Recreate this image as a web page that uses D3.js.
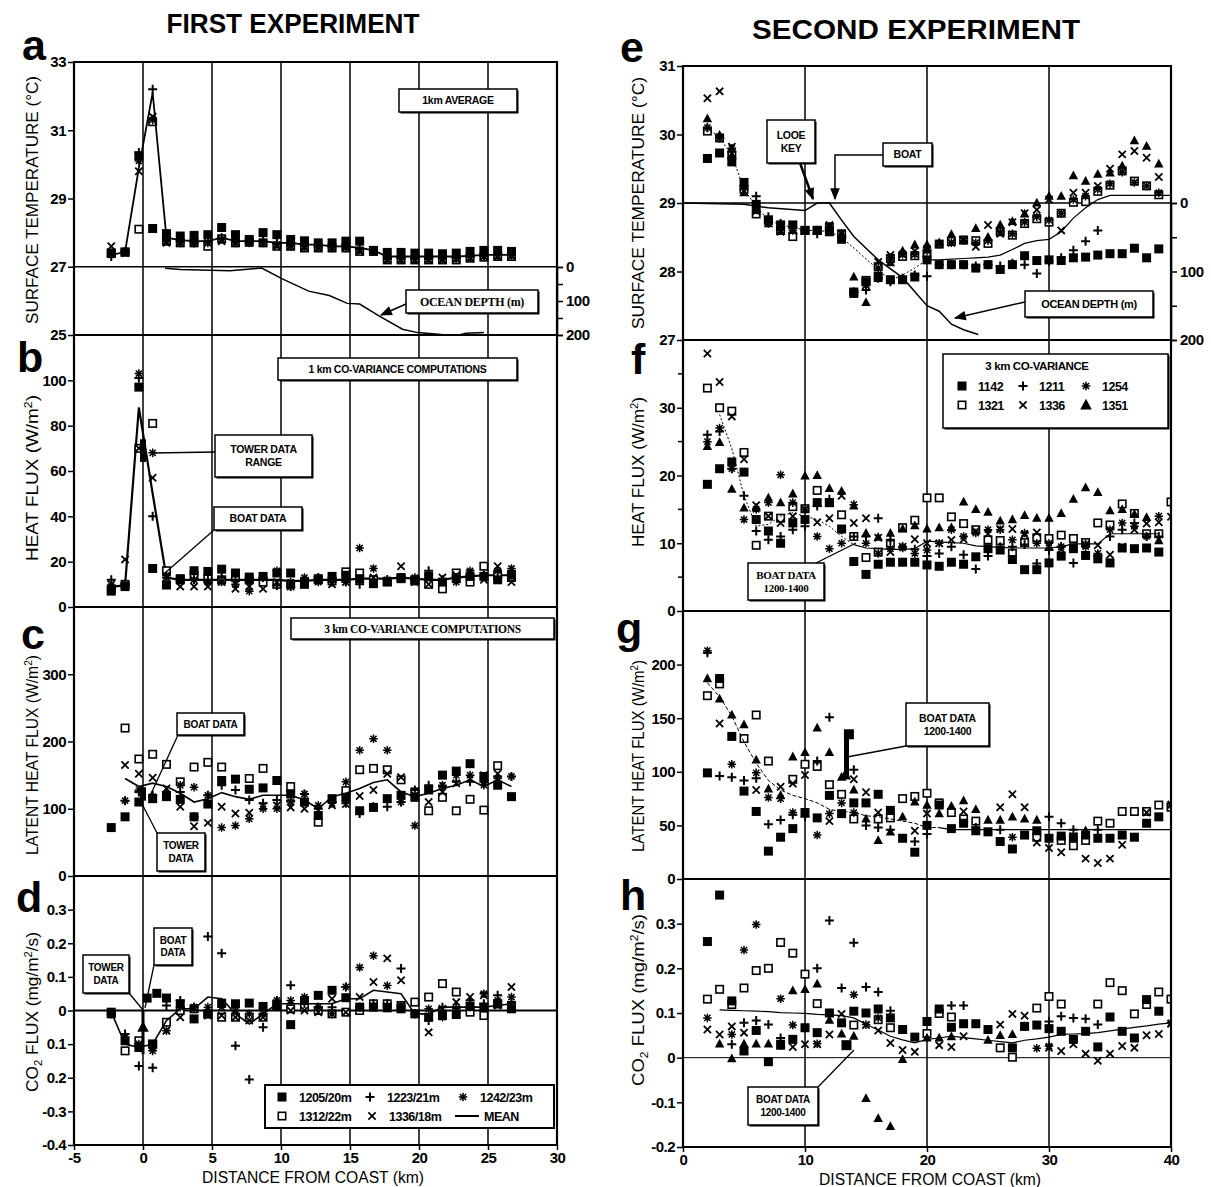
<!DOCTYPE html>
<meta charset="utf-8">
<style>
body { margin: 0; background: #fff; }
text { font-family: "Liberation Sans", Arial, sans-serif; fill: #000; }
.tick text { font-weight: bold; font-size: 15px; letter-spacing: -0.5px; }
.tick line { stroke: #000; stroke-width: 1.5px; }
.serif { font-family: "Liberation Serif", "Times New Roman", serif; }
</style>
<svg width="1211" height="1187"></svg>
<script src="https://d3js.org/d3.v7.min.js"></script>
<script>

// ---------- data: first experiment (1 km steps) ----------
var xFirst = [-2.3,-1.3,-0.3,0.7,1.7,2.7,3.7,4.7,5.7,6.7,7.7,8.7,9.7,10.7,11.7,12.7,13.7,14.7,15.7,16.7,17.7,18.7,19.7,20.7,21.7,22.7,23.7,24.7,25.7,26.7];
var firstNames = ["1205/20m","1223/21m","1242/23m","1312/22m","1336/18m"];

var a1205 = [27.4,27.43,30.25,28.12,27.97,27.9,27.92,27.94,28.15,27.94,27.8,28.0,27.94,27.8,27.76,27.7,27.7,27.75,27.75,27.48,27.42,27.42,27.4,27.4,27.38,27.4,27.45,27.48,27.48,27.45];
var a1223 = [27.3,27.45,30.35,32.2,27.8,27.75,27.7,27.75,27.85,27.75,27.75,27.75,27.7,27.65,27.6,27.6,27.6,27.6,27.55,27.45,27.25,27.25,27.25,27.25,27.25,27.25,27.3,27.32,27.35,27.35];
var a1242 = [27.35,27.45,30.1,31.3,27.75,27.7,27.7,27.7,27.8,27.7,27.7,27.7,27.65,27.6,27.6,27.55,27.55,27.55,27.5,27.45,27.22,27.22,27.22,27.22,27.22,27.25,27.28,27.3,27.32,27.32];
var a1312 = [27.4,27.43,28.1,31.25,27.75,27.7,27.7,27.6,27.82,27.7,27.72,27.7,27.6,27.6,27.55,27.55,27.55,27.55,27.45,27.45,27.2,27.2,27.2,27.2,27.2,27.2,27.25,27.28,27.3,27.3];
var a1336 = [27.6,27.4,29.8,31.4,27.7,27.7,27.7,27.7,27.75,27.7,27.7,27.7,27.6,27.6,27.55,27.55,27.55,27.6,27.45,27.45,27.2,27.2,27.2,27.2,27.2,27.22,27.25,27.3,27.3,27.32];
var aMean = [27.35,27.43,29.9,32.1,27.85,27.78,27.75,27.75,27.85,27.75,27.75,27.75,27.7,27.7,27.65,27.65,27.6,27.6,27.55,27.48,27.3,27.3,27.3,27.3,27.3,27.3,27.32,27.35,27.35,27.35];
var depthAx = [1.6,2.7,6.3,8.6,10.1,12,13.5,14.8,15.7,17.1,18.8,19.9,21.4,22.6,23.4,24.7];
var depthA = [4,7,11,3,35,71,84,107,109,144,183,193,198,203,195,193];

var b1205 = [7,9,97,17,9.7,12.5,16,15.7,16.7,15,13.2,13.5,15,15,10,12.5,13.5,14,12.5,10.3,11.3,12.5,11.5,13.5,11,12.5,13.5,13.5,12,14.4];
var b1223 = [12,10,101,40,13,12,12,12,13,12,11,13,9.5,9,12,13,11,11,10,12,12,13,12,16,12,13,14,14,13,14];
var b1242 = [9,10,103,68,14,12,12,11,11,10,7,13,16,11,13,11,12,13,26,17,12,13,13,14,11,11,16,14,16,17];
var b1312 = [8,10,70,81,16,12,14,12.5,12,13,12,11,10,10,11,12,11.5,15.5,15,12,11,13,12,10,8,15,11,18,14,13];
var b1336 = [10,21,70,57,13,9,9,9,11,8,9,8,11,9,10,12,10,11,12,13,11,18,11,10,13,14,15,12,18,11];
var bMean = [9,9.5,88,50,13,12,12,12,12,12,12,12,12,11.5,11.5,12,12,12,12.5,12.5,12.5,13,12.5,12,12,13,13.5,14,14,14];

var c1205 = [72,88,110,115,118,114,88,107,142,144,129,131,142,122,110,90,115,117,97,102,115,120,117,128,150,156,167,148,135,118];
var c1223 = [null,112,125,120,125,125,88,120,135,128,113,108,113,112,122,100,110,108,93,103,103,110,128,135,133,140,140,140,148,148];
var c1242 = [null,112,128,118,120,135,132,120,72,75,85,100,100,110,122,105,108,140,187,204,187,110,75,130,135,150,150,135,145,148];
var c1312 = [null,220,174,181,166,140,162,169,162,null,145,160,null,133,null,80,null,127,158,160,158,143,125,97,117,97,114,98,164,null];
var c1336 = [null,165,152,146,130,103,74,79,103,93,94,104,105,102,100,97,105,107,119,128,152,147,120,110,125,138,145,150,152,null];
var cMean = [null,145,133,138,133,123,110,115,124,118,114,120,120,120,113,100,118,123,130,139,143,125,118,123,130,135,143,133,143,133];

var d1205 = [-0.005,-0.09,-0.11,-0.1,0.037,0.02,-0.025,-0.01,0.022,0.02,0.022,0.012,0.015,-0.042,0.03,0.045,0.06,0.038,0.01,0.01,0.008,0.005,-0.01,-0.02,-0.015,-0.012,0.012,0.01,0.02,0.005];
var d1223 = [-0.01,-0.07,-0.165,-0.17,0.015,0.03,0.01,0.22,0.17,-0.105,-0.205,-0.05,0.03,0.075,0.02,0.01,0.01,0.07,0.01,0.02,0.02,0.125,-0.01,-0.03,0.01,0.01,0.03,0.02,0.045,0.025];
var d1242 = [-0.01,-0.08,-0.1,-0.12,-0.06,0.01,0.01,0.01,0.01,0.0,-0.01,-0.01,0.03,0.03,0.04,0.01,-0.01,0.07,0.128,0.163,0.074,0.015,-0.01,0.005,-0.02,0.005,0.01,0.05,0.03,0.04];
var d1312 = [-0.01,-0.12,-0.09,-0.1,-0.035,0.0,0.005,-0.01,-0.02,-0.02,-0.02,-0.02,0.015,0.005,0.01,0.0,-0.01,-0.005,0.0,0.02,0.02,0.015,0.025,0.04,0.08,0.055,-0.005,-0.015,0.02,0.01];
var d1336 = [-0.01,-0.09,-0.1,-0.11,-0.06,-0.02,0.005,-0.015,-0.015,-0.02,-0.03,-0.02,0.02,0.0,0.0,-0.005,0.035,-0.005,0.04,0.085,0.155,0.09,-0.01,-0.065,0.005,0.025,0.04,0.045,0.015,0.07];
var dMean = [-0.005,-0.1,-0.11,-0.1,-0.03,0.005,0.005,0.04,0.035,-0.01,-0.04,-0.01,0.02,0.02,0.02,0.02,0.02,0.035,0.035,0.06,0.055,0.05,-0.01,-0.01,0.01,0.01,0.01,0.01,0.015,0.02];
var dBoatX = [0.3,1.0];
var dBoatY = [0.037,0.051];

// ---------- data: second experiment (1 km steps, 2..40 km) ----------
var xSecond = [2,3,4,5,6,7,8,9,10,11,12,13,14,15,16,17,18,19,20,21,22,23,24,25,26,27,28,29,30,31,32,33,34,35,36,37,38,39,40];
var secondNames = ["1142","1211","1254","1321","1336","1351"];

var e1142 = [29.65,29.73,29.6,29.3,28.98,28.75,28.68,28.68,28.6,28.6,28.58,28.47,27.68,27.85,27.93,27.88,27.88,27.92,28.17,28.1,28.1,28.1,28.05,28.1,28.03,28.1,28.23,28.16,28.17,28.16,28.2,28.21,28.24,28.26,28.26,28.34,28.2,28.33,null];
var e1211 = [30.1,29.95,29.75,29.2,29.1,28.8,28.7,28.65,28.6,28.55,28.6,28.5,27.7,27.73,27.9,27.85,27.9,27.95,27.93,28.1,28.1,28.1,28.08,28.1,28.08,28.12,28.1,27.97,28.15,28.2,28.31,28.44,28.6,null,null,null,null,null,null];
var e1254 = [30.1,29.95,29.8,29.25,28.9,28.7,28.6,28.6,28.6,28.6,28.65,28.5,27.7,27.8,28.05,28.2,28.25,28.25,28.3,28.4,28.42,28.45,28.42,28.45,28.58,28.55,28.72,28.8,28.75,28.85,29.05,29.1,29.2,29.28,29.45,29.3,29.25,29.15,null];
var e1321 = [30.05,29.95,29.7,29.2,28.84,28.75,28.6,28.51,28.6,28.6,28.65,28.55,27.7,27.87,28.07,28.19,28.22,28.23,28.26,28.4,28.44,28.46,28.45,28.41,28.58,28.53,28.7,28.77,28.72,28.85,29.01,29.02,29.17,29.26,29.47,29.32,29.25,29.12,null];
var e1336 = [30.53,30.63,29.82,29.25,28.88,28.75,28.58,28.6,28.6,28.6,28.68,28.55,27.7,27.8,28.14,28.24,28.25,28.3,28.33,28.4,28.42,28.46,28.36,28.68,28.55,28.72,28.85,28.9,29.05,28.6,29.15,29.15,29.25,29.5,29.71,29.76,29.66,29.38,null];
var e1351 = [30.23,29.99,29.7,29.15,28.9,28.7,28.65,28.6,28.6,28.6,28.65,28.55,27.92,27.55,27.9,28.13,28.3,28.39,28.39,28.42,28.54,28.45,28.63,28.5,28.68,28.73,28.84,29.0,29.1,29.1,29.4,29.32,29.42,29.44,29.54,29.91,29.83,29.57,null];
var eMean = [30.1,29.95,29.7,29.2,28.95,28.75,28.68,28.65,28.6,28.6,28.58,28.5,null,null,null,27.87,27.95,28.05,28.17,28.17,28.18,28.19,28.2,28.21,28.24,28.32,28.41,28.45,28.47,28.58,28.78,28.93,29.05,29.11,29.11,29.11,29.11,29.11,29.11];
var depthEx = [0,5,7,10,11,12,13,14,16,18,20,21,22,23,24.2];
var depthE = [0,2,7,11,0,0,25,49,83,109,150,158,177,185,192];

var f1142 = [18.7,21,22,20.5,13.5,11.8,10,13,13.5,16,16,12.1,7.3,5.4,6.9,7.2,7.2,7.2,6.8,6.6,7.2,6.9,8,9.2,9,7.6,6.1,6.1,7.1,8.1,9.2,8.2,7.7,7.1,9.3,9.2,9.3,8.7,null];
var f1211 = [26,26.5,21,17,11.8,10.5,11,12,12.5,15.5,16.5,12,11,11,13.7,10.4,9.5,9.1,8.1,8.5,9.5,8.3,6.2,8.1,9.5,9.5,9.8,7,9,9.5,7.1,9.8,8.2,11,12,13,11,11,null];
var f1254 = [25,27,21,13.5,15,16,20.1,16,15,11,9.2,10,15.7,10,8.5,9.2,9.3,8.5,9,10,12,11,11.5,12,12,10.5,11.5,10,10,9.5,9.5,9.5,8.5,12,13,12.5,11,14,null];
var f1321 = [32.9,30,29.5,23.4,9.7,14,13.7,15.4,15.1,17.8,16,14.2,11,7.9,8.7,10,12.3,13.4,16.7,16.7,13.9,12.9,12,10.5,10.4,8.5,10.1,10.8,10.7,11.2,10.7,10.1,13,12.7,15.8,14.4,11.4,11.4,16.1];
var f1336 = [38,33.8,28.7,22.4,15.6,14,13,14,15,13.1,13.7,17,13,13.7,10.8,8.7,9.5,10.6,10,10,10.5,10.6,11.8,11.4,12.1,12.1,11.3,11.6,9.6,9.1,9.5,9.8,9.7,8.3,9.5,12,12.9,13.1,13.9];
var f1351 = [24.3,24.9,18,15.2,15.2,16.7,16,17.3,19.95,20,18.1,17.7,15.5,11.5,10.9,11.5,12.1,12.6,12.1,12.3,12.3,16.1,15,14.6,13.3,13.5,14.1,13.7,13.7,14.4,16.5,18.2,17.5,14.8,15,14.3,13.8,10.4,null];
var fMean = [null,29,24,17,12.5,12.8,14,14.5,14,13.5,12.5,11,9.8,9.3,9.2,9.1,9.1,9.2,10.3,10.2,10.1,10,9.6,9.5,9.4,9.3,9.3,9.3,9.3,9.5,9.9,9.9,9.9,11.4,11.4,11.4,11.4,11.4,null];

var g1142 = [99,187,133,82,63,26,39,47,62,57,78,61,71,71,79,64,38,25,50,69,47,52,45,44,35,28,41,45,38,40,39,41,38,38,41,39,52,58,null];
var g1211 = [211,96,95,92,94,51,55,60,58,110,151,null,102,50,48,46,null,35,42,null,null,null,48,null,46,null,null,null,58,52,46,null,46,null,null,null,null,null,null];
var g1254 = [213,null,107,null,99,76,75,62,null,41,61,71,62,null,null,null,null,null,null,null,null,null,null,null,null,39,null,null,null,null,null,null,null,null,null,null,null,null,70];
var g1321 = [171,182,null,131,153,110,null,93,107,105,88,79,56,null,56,57,75,77,80,71,62,56,54,null,null,null,null,39,null,36,31,36,54,52,63,63,63,69,67];
var g1336 = [null,145,null,null,83,null,86,89,97,null,54,null,93,81,62,null,null,45,61,null,null,63,null,null,67,79,67,34,29,25,40,19,15,19,32,39,62,null,69];
var g1351 = [187,168,153,144,111,84,78,114,118,141,118,95,83,56,36,44,58,72,69,61,68,73,65,55,55,58,56,55,null,null,null,45,null,null,null,null,null,null,null];
var gMean = [183,170,152,128,108,92,83,78,75,71,65,63,62,59,58,56,54,52,48,48,46,46,46,46,46,46,46,46,46,46,46,46,46,46,46,46,46,46,46];

var h1142 = [0.26,0.364,0.127,0.015,0.061,-0.009,0.03,0.041,0.067,0.056,0.1,0.078,0.104,0.1,0.109,0.089,0.063,0.046,0.081,0.109,0.068,0.076,0.076,0.063,null,0.022,0.07,0.073,0.065,0.059,0.041,0.059,0.024,0.091,0.059,0.044,0.13,0.104,null];
var h1211 = [null,null,0.03,0.078,0.083,0.074,0.044,null,null,0.2,0.307,0.156,0.257,0.158,0.147,0.105,null,null,null,null,0.117,0.117,null,null,null,null,null,null,0.081,0.093,0.089,0.087,0.074,null,null,null,null,null,null];
var h1254 = [0.089,null,0.052,0.241,0.298,null,0.132,0.073,null,0.031,null,null,0.141,0.074,0.089,null,null,null,null,null,null,null,null,null,null,null,null,0.021,0.026,null,null,null,null,null,null,null,null,null,0.078];
var h1321 = [0.131,0.153,0.119,0.156,0.195,0.2,0.258,0.234,0.187,0.121,null,null,0.073,null,0.085,0.067,null,null,0.054,0.099,0.091,null,null,null,0.022,0.001,null,0.111,0.137,0.12,null,null,0.12,0.168,0.15,0.098,0.119,0.147,0.131];
var h1336 = [0.063,0.052,0.07,0.056,null,null,null,0.024,0.03,0.03,0.052,0.098,null,0.073,0.061,0.033,0.017,0.013,null,0.028,0.024,0.048,null,null,0.074,0.098,0.094,null,0.022,0.015,0.03,0.009,-0.007,0.009,0.026,0.022,0.05,0.053,0.076];
var h1351 = [null,0.031,-0.002,0.031,0.031,0.031,0.026,0.15,0.153,0.165,0.084,0.053,0.048,-0.091,-0.136,-0.154,-0.004,null,0.044,0.044,0.047,null,null,0.039,0.05,0.052,0.07,null,null,null,null,null,null,null,null,null,null,null,null];
var hMean = [null,0.107,0.106,0.105,0.104,0.103,0.101,0.1,0.099,0.097,0.096,0.094,0.089,0.075,0.062,0.048,0.04,0.033,0.041,0.044,0.048,0.045,0.042,0.039,0.036,0.033,0.039,0.042,0.046,0.052,0.053,0.054,0.056,0.06,0.064,0.068,0.071,0.075,0.078];

// ---------- tick labels ----------
var xTicksFirst = [-5,0,5,10,15,20,25,30];
var xTicksSecond = [0,10,20,30,40];
var dTickVals = [-0.4,-0.3,-0.2,-0.1,0,0.1,0.2,0.3];
var dTickLabels = ["-0.4","-0.3","0.2","0.1","0","0.1","0.2","0.3"];
var hTickVals = [-0.2,-0.1,0,0.1,0.2,0.3];
var hTickLabels = ["-0.2","-0.1","0","0.1","0.2","0.3"];

// ---------- layout ----------
var svg = d3.select("svg");
var xL = d3.scaleLinear().domain([-5, 30]).range([74, 557]);
var xR = d3.scaleLinear().domain([0, 40]).range([683, 1171]);

var yA = d3.scaleLinear().domain([25, 33]).range([335, 62]);
var yAdepth = d3.scaleLinear().domain([0, 200]).range([267, 335]);
var yB = d3.scaleLinear().domain([0, 120]).range([607, 335]);
var yC = d3.scaleLinear().domain([0, 400]).range([876, 607]);
var yD = d3.scaleLinear().domain([-0.4, 0.4]).range([1145, 876]);
var yE = d3.scaleLinear().domain([27, 31]).range([340, 66]);
var yEdepth = d3.scaleLinear().domain([0, 200]).range([203, 340]);
var yF = d3.scaleLinear().domain([0, 40]).range([611, 340]);
var yG = d3.scaleLinear().domain([0, 250]).range([879, 611]);
var yH = d3.scaleLinear().domain([-0.2, 0.4]).range([1147, 879]);

var defs = svg.append("defs");
defs.append("marker").attr("id", "arrBig").attr("viewBox", "0 0 10 10")
  .attr("refX", 9).attr("refY", 5).attr("markerWidth", 14).attr("markerHeight", 12)
  .attr("orient", "auto").attr("markerUnits", "userSpaceOnUse")
  .append("path").attr("d", "M0,1L10,5L0,9Z").attr("fill", "#000");

function clip(id, x0, y0, x1, y1) {
  defs.append("clipPath").attr("id", id).append("rect")
    .attr("x", x0).attr("y", y0).attr("width", x1 - x0).attr("height", y1 - y0);
  return svg.append("g").attr("clip-path", "url(#" + id + ")");
}

function sym(g, type, cx, cy, s) {
  var h = s / 2;
  if (type === "sqf") {
    g.append("rect").attr("x", cx - h).attr("y", cy - h).attr("width", s).attr("height", s).attr("fill", "#000");
  } else if (type === "sqo") {
    g.append("rect").attr("x", cx - h + 0.8).attr("y", cy - h + 0.8).attr("width", s - 1.6).attr("height", s - 1.6)
      .attr("fill", "#fff").attr("stroke", "#000").attr("stroke-width", 1.6);
  } else if (type === "plus") {
    g.append("path").attr("d", "M" + (cx - h) + "," + cy + "H" + (cx + h) + "M" + cx + "," + (cy - h) + "V" + (cy + h))
      .attr("stroke", "#000").attr("stroke-width", 2);
  } else if (type === "cross") {
    var k = h * 0.8;
    g.append("path").attr("d", "M" + (cx - k) + "," + (cy - k) + "L" + (cx + k) + "," + (cy + k) + "M" + (cx - k) + "," + (cy + k) + "L" + (cx + k) + "," + (cy - k))
      .attr("stroke", "#000").attr("stroke-width", 1.8);
  } else if (type === "star") {
    var r = h * 0.95, q = r * 0.72;
    g.append("path").attr("d", "M" + (cx - r) + "," + cy + "H" + (cx + r) + "M" + cx + "," + (cy - r) + "V" + (cy + r) +
        "M" + (cx - q) + "," + (cy - q) + "L" + (cx + q) + "," + (cy + q) + "M" + (cx - q) + "," + (cy + q) + "L" + (cx + q) + "," + (cy - q))
      .attr("stroke", "#000").attr("stroke-width", 1.5);
  } else if (type === "tri") {
    g.append("path").attr("d", "M" + cx + "," + (cy - h * 1.15) + "L" + (cx + h * 1.05) + "," + (cy + h * 0.8) + "L" + (cx - h * 1.05) + "," + (cy + h * 0.8) + "Z")
      .attr("fill", "#000");
  }
}

function points(g, xs, ys, x, y, type, s) {
  xs.forEach(function (xv, i) {
    if (ys[i] == null) return;
    sym(g, type, x(xv), y(ys[i]), s);
  });
}

function curve(g, xs, ys, x, y, width, dash, lo, hi) {
  var pts = xs.map(function (xv, i) { return [xv, ys[i]]; })
    .filter(function (p) { return p[1] != null && (lo == null || p[0] >= lo) && (hi == null || p[0] <= hi); });
  var line = d3.line().x(function (p) { return x(p[0]); }).y(function (p) { return y(p[1]); });
  var path = g.append("path").attr("d", line(pts)).attr("fill", "none").attr("stroke", "#000").attr("stroke-width", width);
  if (dash) path.attr("stroke-dasharray", dash);
}

function yAxis(x0, y, vals, labels, minor) {
  var g = svg.append("g").attr("transform", "translate(" + x0 + ",0)")
    .call(d3.axisLeft(y).tickValues(vals).tickSize(6).tickPadding(2)
      .tickFormat(function (d, i) { return labels ? labels[i] : String(d); }));
  g.select(".domain").remove();
  if (minor) {
    minor.forEach(function (v) {
      svg.append("line").attr("x1", x0 - 5).attr("x2", x0).attr("y1", y(v)).attr("y2", y(v))
        .attr("stroke", "#000").attr("stroke-width", 1.5);
    });
  }
}

function depthAxis(x0, y) {
  var g = svg.append("g").attr("transform", "translate(" + x0 + ",0)")
    .call(d3.axisRight(y).tickValues([0, 50, 100, 150, 200]).tickSize(6).tickPadding(3)
      .tickFormat(function (d) { return d % 100 === 0 ? String(d) : ""; }));
  g.select(".domain").attr("stroke-width", 1.5);
}

function xAxis(y0, x, vals) {
  var g = svg.append("g").attr("transform", "translate(0," + y0 + ")")
    .call(d3.axisBottom(x).tickValues(vals).tickSize(5).tickPadding(2)
      .tickFormat(function (d) { return String(d); }));
  g.select(".domain").remove();
}

function rich(sel, parts, size) {
  var off = 0;
  parts.forEach(function (p) {
    var target = p[1] === "sup" ? -size * 0.4 : p[1] === "sub" ? size * 0.25 : 0;
    var ts = sel.append("tspan").attr("dy", target - off).text(p[0]);
    if (p[1]) ts.attr("font-size", size * 0.65);
    off = target;
  });
}

function yTitle(x, y, parts, len) {
  var t = svg.append("text").attr("transform", "translate(" + x + "," + y + ") rotate(-90)")
    .attr("text-anchor", "middle").attr("font-size", 16);
  rich(t, parts, 16);
  if (len) t.attr("textLength", len).attr("lengthAdjust", "spacingAndGlyphs");
}

function note(x, y, w, h, lines, size, serif) {
  var g = svg.append("g");
  g.append("rect").attr("x", x + 1.5).attr("y", y + 1.5).attr("width", w).attr("height", h).attr("fill", "#000");
  g.append("rect").attr("x", x).attr("y", y).attr("width", w).attr("height", h)
    .attr("fill", "#fff").attr("stroke", "#000").attr("stroke-width", 1.5);
  var lh = size * 1.25;
  lines.forEach(function (t, i) {
    g.append("text").attr("x", x + w / 2).attr("y", y + h / 2 + (i - (lines.length - 1) / 2) * lh + size * 0.36)
      .attr("text-anchor", "middle").attr("font-size", size).attr("font-weight", "bold")
      .attr("class", serif ? "serif" : null).style("letter-spacing", "-0.3px").text(t);
  });
}

function seg(pts, width, marker) {
  var p = svg.append("path").attr("d", d3.line()(pts)).attr("fill", "none")
    .attr("stroke", "#000").attr("stroke-width", width || 1.3);
  if (marker) p.attr("marker-end", "url(#" + marker + ")");
}

function vline(x, y0, y1, w) {
  svg.append("line").attr("x1", x).attr("x2", x).attr("y1", y0).attr("y2", y1).attr("stroke", "#000").attr("stroke-width", w);
}
function hline(x0, x1, y, w) {
  svg.append("line").attr("x1", x0).attr("x2", x1).attr("y1", y).attr("y2", y).attr("stroke", "#000").attr("stroke-width", w);
}

var firstTypes = ["sqf", "plus", "star", "sqo", "cross"];
var secondTypes = ["sqf", "plus", "star", "sqo", "cross", "tri"];
var drawOrder1 = [3, 0, 1, 2, 4];
var drawOrder2 = [3, 0, 1, 2, 4, 5];

// ---------- grid lines ----------
[0, 5, 10, 15, 20, 25].forEach(function (v) { vline(xL(v), 62, 1145, 1.5); });
[10, 20, 30].forEach(function (v) { vline(xR(v), 66, 1147, 1.5); });
hline(74, 557, yA(27), 1.5);
hline(74, 557, yD(0), 2);
hline(683, 1171, yE(29), 1.5);
hline(683, 1171, yH(0), 1);

// ---------- first experiment panels ----------
var gA = clip("cA", 74, 62, 557, 335);
curve(gA, depthAx, depthA, xL, yAdepth, 1.5);
var aSeries = [a1205, a1223, a1242, a1312, a1336];
drawOrder1.forEach(function (k) { points(gA, xFirst, aSeries[k], xL, yA, firstTypes[k], 9); });
curve(gA, xFirst, aMean, xL, yA, 1.8);

var gB = clip("cB", 74, 335, 557, 607);
var bSeries = [b1205, b1223, b1242, b1312, b1336];
curve(gB, xFirst, bMean, xL, yB, 2.2);
drawOrder1.forEach(function (k) { points(gB, xFirst, bSeries[k], xL, yB, firstTypes[k], 9); });
vline(xL(0), yB(74), yB(64), 6);

var gC = clip("cC", 74, 607, 557, 876);
var cSeries = [c1205, c1223, c1242, c1312, c1336];
drawOrder1.forEach(function (k) { points(gC, xFirst, cSeries[k], xL, yC, firstTypes[k], 9); });
curve(gC, xFirst, cMean, xL, yC, 1.6);
vline(xL(0), yC(132), yC(112), 6);

var gD = clip("cD", 74, 876, 557, 1145);
var dSeries = [d1205, d1223, d1242, d1312, d1336];
drawOrder1.forEach(function (k) { points(gD, xFirst, dSeries[k], xL, yD, firstTypes[k], 9); });
points(gD, dBoatX, dBoatY, xL, yD, "sqf", 9);
curve(gD, xFirst, dMean, xL, yD, 1.6);
vline(xL(0), yD(0), yD(-0.13), 3);
sym(gD, "tri", xL(0), yD(-0.05), 11);

// ---------- second experiment panels ----------
var gE = clip("cE", 683, 66, 1171, 340);
curve(gE, depthEx, depthE, xR, yEdepth, 1.5);
var eSeries = [e1142, e1211, e1254, e1321, e1336, e1351];
drawOrder2.forEach(function (k) { points(gE, xSecond, eSeries[k], xR, yE, secondTypes[k], 9); });
curve(gE, xSecond, eMean, xR, yE, 1, "2,2", null, 20);
curve(gE, xSecond, eMean, xR, yE, 1.2, null, 20, null);

var gF = clip("cF", 683, 340, 1171, 611);
var fSeries = [f1142, f1211, f1254, f1321, f1336, f1351];
drawOrder2.forEach(function (k) { points(gF, xSecond, fSeries[k], xR, yF, secondTypes[k], 9); });
curve(gF, xSecond, fMean, xR, yF, 1, "2,2", null, 14);
curve(gF, xSecond, fMean, xR, yF, 1.2, null, 14, null);

var gG = clip("cG", 683, 611, 1171, 879);
var gSeries = [g1142, g1211, g1254, g1321, g1336, g1351];
drawOrder2.forEach(function (k) { points(gG, xSecond, gSeries[k], xR, yG, secondTypes[k], 9); });
curve(gG, xSecond, gMean, xR, yG, 1, "4,2", null, 21);
curve(gG, xSecond, gMean, xR, yG, 1.2, null, 21, null);
vline(xR(13.4), yG(135), yG(95), 5);
sym(gG, "sqf", xR(13.6), yG(135), 10);
sym(gG, "tri", xR(13.3), yG(97), 11);

var gH = clip("cH", 683, 879, 1171, 1147);
var hSeries = [h1142, h1211, h1254, h1321, h1336, h1351];
drawOrder2.forEach(function (k) { points(gH, xSecond, hSeries[k], xR, yH, secondTypes[k], 9); });
points(gH, [13.4], [0.028], xR, yH, "sqf", 10);
curve(gH, xSecond, hMean, xR, yH, 1.2);

// ---------- frames ----------
[62, 335, 607, 876, 1145].forEach(function (y) { hline(73, 558, y, 2.2); });
vline(74, 61, 1146, 2.2); vline(557, 61, 1146, 2.2);
[66, 340, 611, 879, 1147].forEach(function (y) { hline(682, 1172, y, 2.2); });
vline(683, 65, 1148, 2.2); vline(1171, 65, 1148, 2.2);

// ---------- axes ----------
yAxis(74, yA, [25, 27, 29, 31, 33]);
depthAxis(557, yAdepth);
yAxis(74, yB, [0, 20, 40, 60, 80, 100]);
yAxis(74, yC, [0, 100, 200, 300]);
yAxis(74, yD, dTickVals, dTickLabels);
xAxis(1145, xL, xTicksFirst);

yAxis(683, yE, [27, 28, 29, 30, 31]);
depthAxis(1171, yEdepth);
yAxis(683, yF, [0, 10, 20, 30], null, [5, 15, 25, 35]);
yAxis(683, yG, [0, 50, 100, 150, 200]);
yAxis(683, yH, hTickVals, hTickLabels);
xAxis(1147, xR, xTicksSecond);

svg.append("text").attr("x", 313).attr("y", 1183).attr("text-anchor", "middle").attr("font-size", 16)
  .attr("textLength", 222).attr("lengthAdjust", "spacingAndGlyphs").text("DISTANCE FROM COAST (km)");
svg.append("text").attr("x", 930).attr("y", 1185).attr("text-anchor", "middle").attr("font-size", 16)
  .attr("textLength", 222).attr("lengthAdjust", "spacingAndGlyphs").text("DISTANCE FROM COAST (km)");

yTitle(38, 200, [["SURFACE TEMPERATURE (°C)"]], 248);
yTitle(38, 478, [["HEAT FLUX (W/m"], ["2", "sup"], [")"]], 166);
yTitle(38, 755, [["LATENT HEAT FLUX (W/m"], ["2", "sup"], [")"]], 200);
yTitle(38, 1012, [["CO"], ["2", "sub"], [" FLUX  (mg/m"], ["2", "sup"], ["/s)"]], 160);
yTitle(644, 203, [["SURFACE TEMPERATURE (°C)"]], 252);
yTitle(644, 472, [["HEAT FLUX (W/m"], ["2", "sup"], [")"]], 150);
yTitle(644, 756, [["LATENT HEAT FLUX (W/m"], ["2", "sup"], [")"]], 192);
yTitle(644, 1000, [["CO"], ["2", "sub"], [" FLUX  (mg/m"], ["2", "sup"], ["/s)"]], 172);

// ---------- titles and panel letters ----------
svg.append("text").attr("x", 293).attr("y", 33).attr("text-anchor", "middle").attr("font-size", 27)
  .attr("font-weight", "bold").attr("textLength", 253).attr("lengthAdjust", "spacingAndGlyphs").text("FIRST EXPERIMENT");
svg.append("text").attr("x", 916).attr("y", 39).attr("text-anchor", "middle").attr("font-size", 27)
  .attr("font-weight", "bold").attr("textLength", 328).attr("lengthAdjust", "spacingAndGlyphs").text("SECOND EXPERIMENT");

var letters = [["a", 22, 60], ["b", 17, 372], ["c", 21, 649], ["d", 16, 912], ["e", 620, 62], ["f", 631, 374], ["g", 616, 643], ["h", 620, 910]];
letters.forEach(function (l) {
  svg.append("text").attr("x", l[1]).attr("y", l[2]).attr("font-size", 43).attr("font-weight", "bold").text(l[0]);
});

// ---------- annotations ----------
note(399, 89, 118, 23, ["1km  AVERAGE"], 10.5);
note(406, 290, 132, 23, ["OCEAN DEPTH (m)"], 12, true);
seg([[406, 304], [381, 315]], 1.5, "arrBig");

note(278, 358, 239, 22, ["1 km  CO-VARIANCE COMPUTATIONS"], 10.5);
note(215, 435, 97, 42, ["TOWER  DATA", "RANGE"], 10.5);
seg([[215, 452], [152, 453]], 1.3);
note(214, 507, 88, 23, ["BOAT  DATA"], 10.5);
seg([[214, 530], [165, 573]], 1.3);

note(291, 618, 263, 21, ["3 km  CO-VARIANCE COMPUTATIONS"], 11.5, true);
note(177, 713, 67, 22, ["BOAT DATA"], 10);
seg([[178, 735], [150, 796]], 1.3);
note(157, 833, 48, 38, ["TOWER", "DATA"], 10);
seg([[157, 833], [140, 800]], 1.3);

note(83, 955, 46, 38, ["TOWER", "DATA"], 10);
seg([[129, 993], [143, 1010]], 1.3);
note(154, 928, 38, 37, ["BOAT", "DATA"], 10);
seg([[154, 965], [145, 1008]], 1.3);

// legend, first experiment
var leg1 = svg.append("g");
leg1.append("rect").attr("x", 265).attr("y", 1085).attr("width", 289).attr("height", 43)
  .attr("fill", "#fff").attr("stroke", "#000").attr("stroke-width", 2);
var leg1Pos = [[282, 1097], [370, 1097], [463, 1097], [282, 1116], [372, 1116]];
firstNames.forEach(function (n, i) {
  sym(leg1, firstTypes[i], leg1Pos[i][0], leg1Pos[i][1], 9);
  leg1.append("text").attr("x", leg1Pos[i][0] + 17).attr("y", leg1Pos[i][1] + 5).attr("font-size", 12.5)
    .attr("font-weight", "bold").style("letter-spacing", "-0.5px").text(n);
});
leg1.append("line").attr("x1", 455).attr("x2", 479).attr("y1", 1116).attr("y2", 1116).attr("stroke", "#000").attr("stroke-width", 2);
leg1.append("text").attr("x", 484).attr("y", 1121).attr("font-size", 12.5).attr("font-weight", "bold")
  .style("letter-spacing", "-0.5px").text("MEAN");

// second experiment notes
note(767, 120, 48, 43, ["LOOE", "KEY"], 10.5);
seg([[800, 163], [813, 199]], 2.5, "arrBig");
note(883, 143, 49, 23, ["BOAT"], 10.5);
seg([[883, 155], [835, 155], [835, 199]], 1.5, "arrBig");
note(1025, 291, 128, 26, ["OCEAN DEPTH (m)"], 11);
seg([[1025, 302], [955, 318]], 1.5, "arrBig");

var leg2 = svg.append("g");
leg2.append("rect").attr("x", 1.5 + 943).attr("y", 1.5 + 354).attr("width", 225).attr("height", 74).attr("fill", "#000");
leg2.append("rect").attr("x", 943).attr("y", 354).attr("width", 225).attr("height", 74)
  .attr("fill", "#fff").attr("stroke", "#000").attr("stroke-width", 1.5);
leg2.append("text").attr("x", 1037).attr("y", 370).attr("text-anchor", "middle").attr("font-size", 11.5)
  .attr("font-weight", "bold").style("letter-spacing", "-0.4px").text("3 km  CO-VARIANCE");
var leg2Pos = [[962, 386], [1023, 386], [1086, 386], [962, 405], [1023, 405], [1086, 405]];
secondNames.forEach(function (n, i) {
  sym(leg2, secondTypes[i], leg2Pos[i][0], leg2Pos[i][1], i === 5 ? 11 : 9);
  leg2.append("text").attr("x", leg2Pos[i][0] + 16).attr("y", leg2Pos[i][1] + 5).attr("font-size", 12.5)
    .attr("font-weight", "bold").style("letter-spacing", "-0.5px").text(n);
});

note(748, 563, 76, 37, ["BOAT DATA", "1200-1400"], 11, true);
seg([[816, 563], [856, 543]], 1.3);
note(906, 703, 83, 43, ["BOAT DATA", "1200-1400"], 10.5);
seg([[906, 746], [847, 757]], 1.3);
note(748, 1087, 70, 38, ["BOAT  DATA", "1200-1400"], 10);
seg([[818, 1087], [854, 1050]], 1.3);

</script>
